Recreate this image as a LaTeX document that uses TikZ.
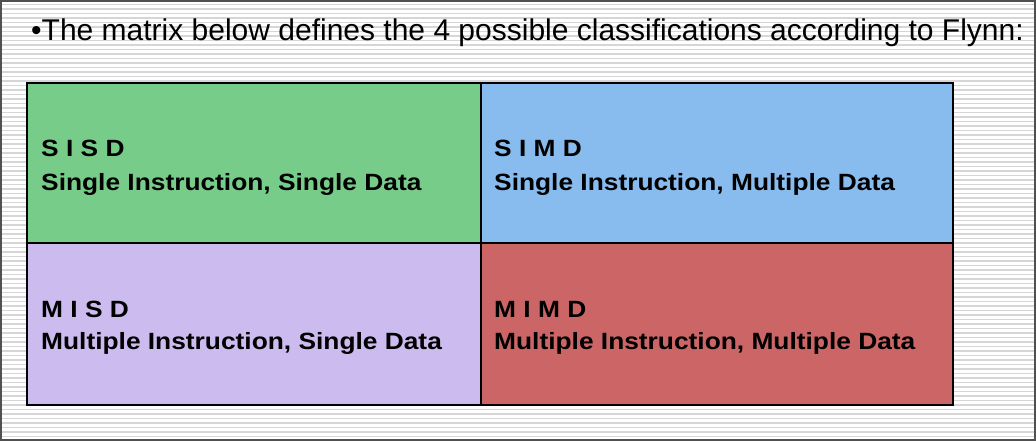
\documentclass[tikz,border=0pt]{standalone}
\usepackage{fontspec}
\setmainfont{Liberation Sans}
\newfontfamily\cellfont[FakeStretch=1.12]{Liberation Sans}
\newfontfamily\titlefont{Liberation Sans}
\definecolor{cgreen}{HTML}{78CC8A}
\definecolor{cblue}{HTML}{88BBEE}
\definecolor{clav}{HTML}{CCBBEE}
\definecolor{cred}{HTML}{CC6666}
\definecolor{stripe}{HTML}{D6D6D6}
\definecolor{frame}{HTML}{505050}
\tikzset{
  cellbox/.style={draw=black, line width=1.3pt},
  celltext/.style={anchor=base west, inner sep=0pt, font=\cellfont\bfseries\fontsize{23.5}{28}\selectfont},
  titletext/.style={anchor=base west, inner sep=0pt, font=\titlefont\fontsize{30}{36}\selectfont}
}
\begin{document}
\begin{tikzpicture}[x=1pt,y=-1pt]
\useasboundingbox (0,0) rectangle (1036,441);
\fill[white] (0,0) rectangle (1036,441);
\foreach \k in {0,...,97} {
  \draw[stripe, line width=1.3pt] (2,{4.5+4.5*\k}) -- (1034,{4.5+4.5*\k});
}
\draw[frame, line width=2.2pt] (1.1,1.1) rectangle (1034.9,439.9);
\node[titletext] (title) at (31,40.5) {\textbullet The matrix below defines the 4 possible classifications according to Flynn:};
\path[fill=cgreen] (27,83) rectangle (481,243);
\path[fill=cblue] (481,83) rectangle (953,243);
\path[fill=clav] (27,243) rectangle (481,405);
\path[fill=cred] (481,243) rectangle (953,405);
\draw[cellbox] (27,83) rectangle (953,405);
\draw[cellbox] (481,83) -- (481,405);
\draw[cellbox] (27,243) -- (953,243);
\node[celltext] (sisd) at (41,157) {S I S D};
\node[celltext] (sisdl) at (41,190) {Single Instruction, Single Data};
\node[celltext] (simd) at (494,157) {S I M D};
\node[celltext] (simdl) at (494,190) {Single Instruction, Multiple Data};
\node[celltext] (misd) at (41,317) {M I S D};
\node[celltext] (misdl) at (41,349) {Multiple Instruction, Single Data};
\node[celltext] (mimd) at (494,317) {M I M D};
\node[celltext] (mimdl) at (494,349) {Multiple Instruction, Multiple Data};
\end{tikzpicture}
\end{document}
